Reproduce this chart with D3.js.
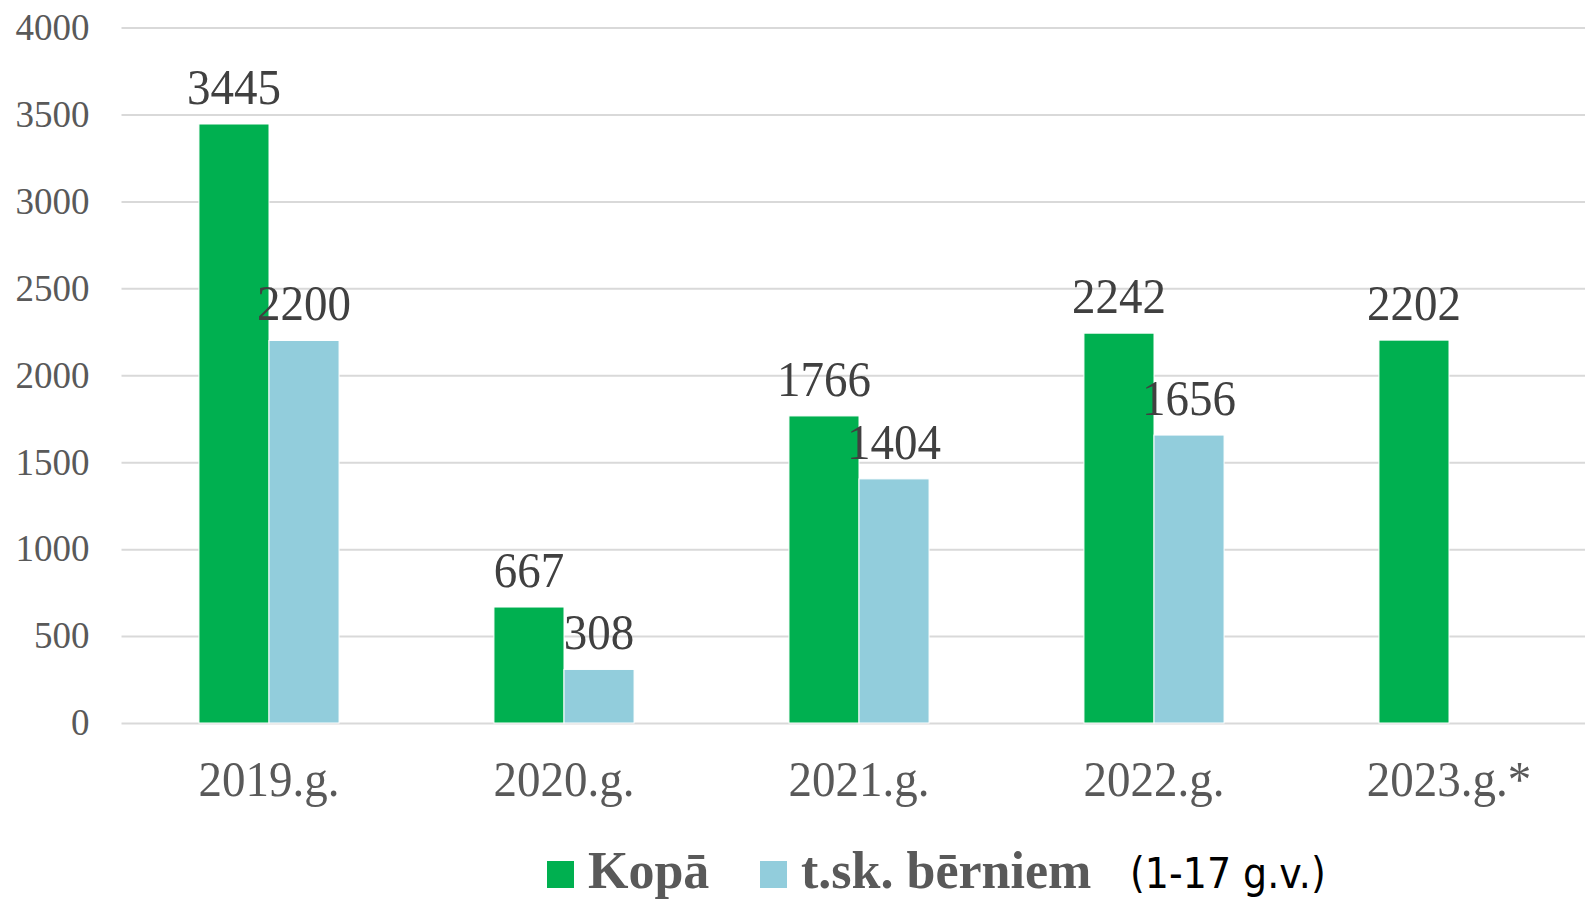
<!DOCTYPE html>
<html>
<head>
<meta charset="utf-8">
<script src="https://cdn.jsdelivr.net/npm/d3@7"></script>
<style>
  body { margin: 0; background: #fff; }
  .y-axis .domain { display: none; }
  .y-axis line { stroke: #d9d9d9; stroke-width: 2; }
  .y-axis text { font-family: "Liberation Serif", serif; font-size: 37px; fill: #595959; }
</style>
</head>
<body>
<div id="chart"></div>
<script>
// data
var categories = ["2019.g.", "2020.g.", "2021.g.", "2022.g.", "2023.g.*"];
var seriesNames = ["Kopā", "t.sk. bērniem"];
var kopa = [3445, 667, 1766, 2242, 2202];
var berniem = [2200, 308, 1404, 1656, null];
var yTicks = [0, 500, 1000, 1500, 2000, 2500, 3000, 3500, 4000];
var colors = ["#00b050", "#92cddc"];

var W = 1585, H = 901;
var plotLeft = 121.5, plotRight = 1596.5, plotTop = 27.5, plotBottom = 723;

var svg = d3.select("#chart").append("svg")
    .attr("width", W)
    .attr("height", H);

var x0 = d3.scaleBand().domain(categories).range([plotLeft, plotRight])
    .paddingInner(0.525).paddingOuter(0.2625);
var x1 = d3.scaleBand().domain(seriesNames).range([0, x0.bandwidth()]);
var y = d3.scaleLinear().domain([0, 4000]).range([plotBottom, plotTop]);

// gridlines + tick labels
svg.append("g")
    .attr("class", "y-axis")
    .attr("transform", "translate(" + plotLeft + ",0)")
    .call(d3.axisLeft(y).tickValues(yTicks).tickFormat(d3.format("d"))
      .tickSize(-(W - plotLeft)).tickPadding(32));

var rows = [];
categories.forEach(function(c, i) {
  rows.push({cat: c, s: seriesNames[0], v: kopa[i], color: colors[0]});
  if (berniem[i] != null) rows.push({cat: c, s: seriesNames[1], v: berniem[i], color: colors[1]});
});

svg.selectAll(".bar")
  .data(rows)
  .enter().append("rect")
    .attr("class", "bar")
    .attr("x", function(d) { return x0(d.cat) + x1(d.s); })
    .attr("y", function(d) { return y(d.v); })
    .attr("width", x1.bandwidth())
    .attr("height", function(d) { return y(0) - y(d.v); })
    .attr("fill", function(d) { return d.color; })
    .attr("stroke", "#fff")
    .attr("stroke-width", 1);

// value labels
svg.selectAll(".val")
  .data(rows)
  .enter().append("text")
    .attr("class", "val")
    .attr("transform", function(d) {
      return "translate(" + (x0(d.cat) + x1(d.s) + x1.bandwidth() / 2) + "," + (y(d.v) - 20) + ") scale(1,1.1)";
    })
    .attr("text-anchor", "middle")
    .style("font-family", "Liberation Serif, serif")
    .style("font-size", "47px")
    .style("fill", "#404040")
    .text(function(d) { return d.v; });

// category labels
svg.selectAll(".cat")
  .data(categories)
  .enter().append("text")
    .attr("class", "cat")
    .attr("transform", function(d) {
      return "translate(" + (x0(d) + x0.bandwidth() / 2) + ",796) scale(1,1.1)";
    })
    .attr("text-anchor", "middle")
    .style("font-family", "Liberation Serif, serif")
    .style("font-size", "47px")
    .style("fill", "#595959")
    .text(function(d) { return d; });

// legend
var legend = svg.append("g").attr("class", "legend");
var legendX = [547, 760];
seriesNames.forEach(function(s, i) {
  legend.append("rect")
      .attr("x", legendX[i]).attr("y", 861)
      .attr("width", 27).attr("height", 27)
      .attr("fill", colors[i]);
  legend.append("text")
      .attr("x", legendX[i] + 41).attr("y", 888)
      .style("font-family", "Liberation Serif, serif")
      .style("font-weight", "bold")
      .style("font-size", "52px")
      .style("fill", "#595959")
      .text(s);
});
legend.append("text")
    .attr("transform", "translate(1130,888) scale(1,1.1)")
    .style("font-family", "DejaVu Sans, sans-serif")
    .style("font-size", "38px")
    .style("fill", "#000")
    .text("(1-17 g.v.)");
</script>
</body>
</html>
